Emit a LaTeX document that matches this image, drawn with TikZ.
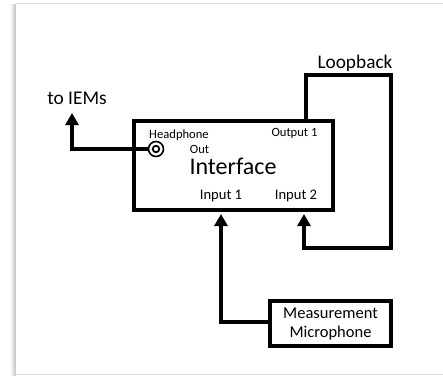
\documentclass[tikz,border=0pt]{standalone}
\usepackage{fontspec}
\setmainfont{Carlito}
\usetikzlibrary{arrows.meta}
\begin{document}
\begin{tikzpicture}[x=1pt,y=-1pt,
  wire/.style={line width=3.5pt, line join=miter},
  arrowwire/.style={wire, -{Triangle[width=13pt,length=12pt]}},
  blockbox/.style={draw, line width=4pt, inner sep=0pt},
  lbl/.style={anchor=base, inner sep=0pt}
]
\useasboundingbox (0,0) rectangle (443,376);
% frame with shadow
\fill[gray!12] (11,4) rectangle (15,376);
\fill[gray!30] (13,4) rectangle (15.5,376);
\draw[gray!25, line width=1pt] (15.5,3.5) -- (443,3.5);
\draw[gray!25, line width=1pt] (15.5,374.5) -- (443,374.5);
\draw[gray!45, line width=1pt] (15.5,3.5) -- (15.5,375);

% boxes
\node[blockbox, minimum width=199pt, minimum height=89pt] (iface) at (233.5,165.5) {};
\node[blockbox, minimum width=121pt, minimum height=45pt] (mic) at (330.5,323.5) {};

% texts
\node[lbl, font=\fontsize{24}{28}\selectfont] (ifacelbl) at (233,174) {Interface};
\node[lbl, font=\fontsize{12.6}{15}\selectfont] (hplbl) at (179,138) {Headphone};
\node[lbl, font=\fontsize{12.6}{15}\selectfont] (outlbl) at (199.5,153) {Out};
\node[lbl, font=\fontsize{12.6}{15}\selectfont] (out1lbl) at (294.5,136) {Output 1};
\node[lbl, font=\fontsize{14.6}{17}\selectfont] (in1lbl) at (221,199) {Input 1};
\node[lbl, font=\fontsize{14.6}{17}\selectfont] (in2lbl) at (296,199) {Input 2};
\node[lbl, font=\fontsize{16.5}{20}\selectfont] (measlbl) at (330.5,318.5) {Measurement};
\node[lbl, font=\fontsize{16.5}{20}\selectfont] (miclbl) at (330.5,337.5) {Microphone};
\node[lbl, font=\fontsize{19.3}{23}\selectfont] (loopLbl) at (355,68) {Loopback};
\node[lbl, font=\fontsize{19.4}{23}\selectfont] (iemlbl) at (77,104) {to IEMs};

% headphone jack
\node[circle, draw, line width=1.6pt, minimum size=15pt, inner sep=0pt] (jack) at (156,149) {};
\node[circle, draw, line width=1.8pt, minimum size=6.5pt, inner sep=0pt] (jackin) at (156,149) {};
\coordinate (iemtip) at (72,113);
\draw[arrowwire] (jack.west) -| (iemtip);

% loopback
\coordinate (lpA) at (306,75);
\coordinate (lpB) at (391,248);
\coordinate (lpC) at (304,248);
\draw[arrowwire] (iface.north -| lpA) -- (lpA) -| (lpB) -| ([yshift=-2pt]iface.south -| lpC);

% microphone
\coordinate (micX) at (221,322);
\draw[arrowwire] (mic.west |- micX) -- (micX) -- ([yshift=-2pt]iface.south -| micX);
\end{tikzpicture}
\end{document}
